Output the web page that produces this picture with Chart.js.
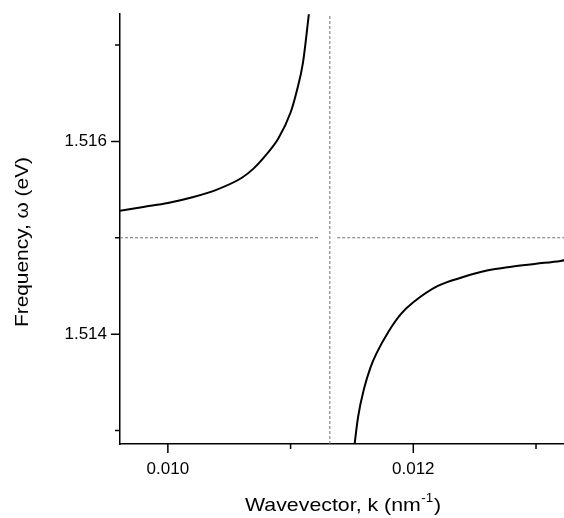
<!DOCTYPE html>
<html><head><meta charset="utf-8">
<script src="https://cdn.jsdelivr.net/npm/chart.js@4.4.1/dist/chart.umd.min.js"></script>
<style>html,body{margin:0;padding:0;background:#fff;} #wrap{width:564px;height:518px;}</style>
</head><body><div id="wrap"><canvas id="c" width="564" height="518"></canvas></div>
<script>
// ---- data ----
const upperK = [0.00961, 0.0098, 0.0100, 0.0102, 0.0104, 0.0106, 0.0107, 0.0108, 0.0109, 0.0110, 0.01105, 0.0111, 0.01115];
const upperW = [1.51528, 1.51532, 1.51536, 1.51542, 1.51550, 1.51562, 1.51572, 1.51586, 1.51603, 1.51630, 1.51652, 1.51681, 1.51733];
const lowerK = [0.01150, 0.01155, 0.01160, 0.01165, 0.01170, 0.01180, 0.01190, 0.01200, 0.01220, 0.01240, 0.01260, 0.01280, 0.01300, 0.01320, 0.01325];
const lowerW = [1.51262, 1.51314, 1.51344, 1.51365, 1.51380, 1.51403, 1.51421, 1.51433, 1.51450, 1.51459, 1.51466, 1.51470, 1.51473, 1.51476, 1.51477];
const asymptoteK = 0.01132;
const asymptoteW = 1.515;
const hLineSegments = [[0.00961, 0.01124], [0.01138, 0.013228]];
const xRange = [0.00961, 0.013228];
const yRange = [1.51286, 1.51732];
const xTickValues = [0.010, 0.011, 0.012, 0.013];
const xTickLabels = ['0.010', '', '0.012', ''];
const yTickValues = [1.513, 1.514, 1.515, 1.516, 1.517];
const yTickLabels = ['', '1.514', '', '1.516', ''];
const xTitle = 'Wavevector, k (nm', xTitleSup = '-1', xTitleEnd = ')';
const yTitle = 'Frequency, \u03C9 (eV)';

const FONT = '"Liberation Sans", Arial, Helvetica, sans-serif';
const pts = (ks, ws) => ks.map((k, i) => ({x: k, y: ws[i]}));

const dashStyle = {borderColor: '#707070', borderWidth: 1, borderDash: [3, 2], pointRadius: 0, showLine: true, tension: 0};
const datasets = [
  {data: pts(upperK, upperW), borderColor: '#000', borderWidth: 2, pointRadius: 0, showLine: true, cubicInterpolationMode: 'monotone'},
  {data: pts(lowerK, lowerW), borderColor: '#000', borderWidth: 2, pointRadius: 0, showLine: true, cubicInterpolationMode: 'monotone'},
  Object.assign({data: [{x: asymptoteK, y: yRange[0]}, {x: asymptoteK, y: yRange[1]}]}, dashStyle),
];
hLineSegments.forEach(s => datasets.push(Object.assign({data: [{x: s[0], y: asymptoteW}, {x: s[1], y: asymptoteW}]}, dashStyle)));

const decor = {
  id: 'decor',
  afterDraw(chart) {
    const {ctx, chartArea: a, scales: {x, y}} = chart;
    ctx.save();
    ctx.strokeStyle = '#000';
    ctx.lineWidth = 1.5;
    ctx.beginPath();
    xTickValues.forEach((v, i) => {
      const p = x.getPixelForValue(v);
      const len = xTickLabels[i] ? 9 : 5;
      ctx.moveTo(p, a.bottom); ctx.lineTo(p, a.bottom + len);
    });
    yTickValues.forEach((v, i) => {
      const p = y.getPixelForValue(v);
      const len = yTickLabels[i] ? 9 : 5;
      ctx.moveTo(a.left, p); ctx.lineTo(a.left - len, p);
    });
    ctx.stroke();
    ctx.fillStyle = '#000';
    ctx.textBaseline = 'alphabetic';
    ctx.textAlign = 'left';
    // x title with superscript (slightly wide lettering as in the reference)
    const big = '19px ' + FONT, small = '12px ' + FONT;
    ctx.font = big; const w1 = ctx.measureText(xTitle).width; const w3 = ctx.measureText(xTitleEnd).width;
    ctx.font = small; const w2 = ctx.measureText(xTitleSup).width;
    const total = w1 + w2 + w3 + 1;
    const sxScale = 196 / total;
    ctx.save();
    ctx.translate((a.left + a.right) / 2 + 1, 511);
    ctx.scale(sxScale, 1);
    let sx = -total / 2;
    ctx.font = big; ctx.fillText(xTitle, sx, 0);
    ctx.font = small; ctx.fillText(xTitleSup, sx + w1 + 0.5, -9);
    ctx.font = big; ctx.fillText(xTitleEnd, sx + w1 + w2 + 1, 0);
    ctx.restore();
    // y title
    ctx.save();
    ctx.translate(28, 242);
    ctx.rotate(-Math.PI / 2);
    ctx.textAlign = 'center';
    ctx.font = '19px ' + FONT;
    const wy = ctx.measureText(yTitle).width;
    ctx.scale(170 / wy, 1);
    ctx.fillText(yTitle, 0, 0);
    ctx.restore();
    ctx.restore();
  }
};

new Chart(document.getElementById('c'), {
  type: 'scatter',
  data: {datasets},
  options: {
    responsive: false,
    animation: false,
    devicePixelRatio: 1,
    layout: {padding: {top: 10, right: 0, left: 0, bottom: 0}},
    plugins: {legend: {display: false}, tooltip: {enabled: false}},
    scales: {
      x: {
        type: 'linear', min: xRange[0], max: xRange[1],
        afterBuildTicks: s => { s.ticks = xTickValues.map(v => ({value: v})); },
        afterFit: s => { s.height = 74; },
        ticks: {autoSkip: false, maxRotation: 0, padding: 6, color: '#000', font: {family: FONT, size: 17},
          callback: (v, i) => xTickLabels[i]},
        grid: {drawOnChartArea: false, drawTicks: true, tickLength: 9, tickColor: 'rgba(0,0,0,0)'},
        border: {display: true, color: '#000', width: 1.5},
        title: {display: false}
      },
      y: {
        type: 'linear', min: yRange[0], max: yRange[1],
        afterBuildTicks: s => { s.ticks = yTickValues.map(v => ({value: v})); },
        afterFit: s => { s.width = 120; },
        ticks: {autoSkip: false, padding: 4, color: '#000', font: {family: FONT, size: 17},
          callback: (v, i) => yTickLabels[i]},
        grid: {drawOnChartArea: false, drawTicks: true, tickLength: 9, tickColor: 'rgba(0,0,0,0)'},
        border: {display: true, color: '#000', width: 1.5},
        title: {display: false}
      }
    }
  },
  plugins: [decor]
});
</script>
</body></html>
